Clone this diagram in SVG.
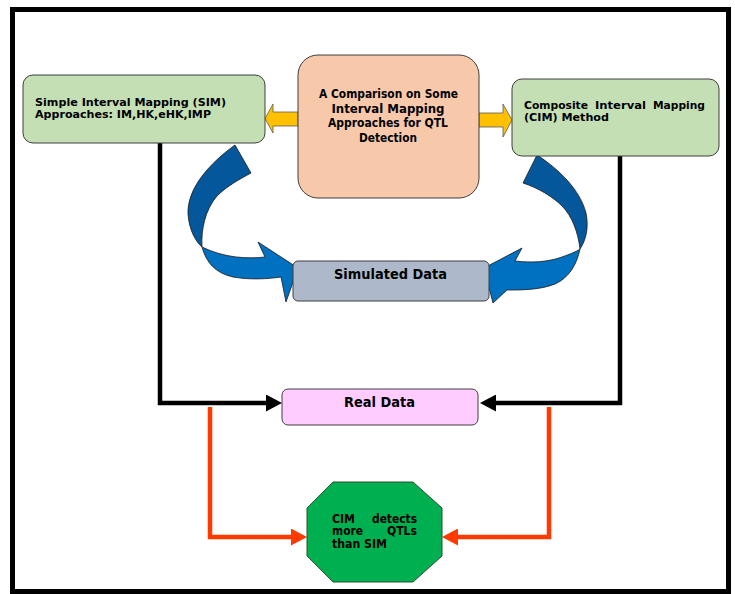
<svg xmlns="http://www.w3.org/2000/svg" width="735" height="594" viewBox="0 0 735 594">
<defs>
<style>
text{font-family:"DejaVu Sans","Verdana","Liberation Sans",sans-serif;font-weight:bold;fill:#000}
.s11{font-size:11.5px}
.s10{font-size:11px}
.s13{font-size:14px}
.box{stroke:#3f3f3f;stroke-width:1}
.blk{fill:none;stroke:#000;stroke-width:4.5;stroke-linejoin:miter}
.red{fill:none;stroke:#ff3a00;stroke-width:4.5;stroke-linejoin:miter}
.ora{fill:#ffc000;stroke:#5a5a5a;stroke-width:0.8}
.dk{fill:#03579a;stroke:#1a1a1a;stroke-width:0.8}
.lt{fill:#0070c0;stroke:#1a1a1a;stroke-width:0.8}
</style>
<marker id="hb" viewBox="0 0 16 17" markerWidth="16" markerHeight="17" refX="0" refY="8.5" orient="auto" markerUnits="userSpaceOnUse"><path d="M0,0 L16,8.5 L0,17 Z" fill="#000"/></marker>
<marker id="hr" viewBox="0 0 16 17" markerWidth="16" markerHeight="17" refX="0" refY="8.5" orient="auto" markerUnits="userSpaceOnUse"><path d="M0,0 L16,8.5 L0,17 Z" fill="#ff3a00"/></marker>
</defs>
<rect x="0" y="0" width="735" height="594" fill="#fff"/>
<rect x="12.5" y="9.5" width="716" height="582" fill="none" stroke="#000" stroke-width="5"/>

<g id="connectors">
<polyline class="blk" points="160,143 160,403 266,403" marker-end="url(#hb)"/>
<polyline class="blk" points="620,156 620,403 496,403" marker-end="url(#hb)"/>
<polyline class="red" points="210,407 210,537 291,537" marker-end="url(#hr)"/>
<polyline class="red" points="549,407 549,537 458,537" marker-end="url(#hr)"/>
<path class="ora" d="M298,112 L273,112 L273,104 L265,118.5 L273,133 L273,126 L298,126 Z"/>
<path class="ora" d="M479,113 L503,113 L503,104 L512,120 L503,137 L503,127 L479,127 Z"/>
<path class="dk" d="M235,145 C210,163 187,188 188,214 C189,230 196,242 202,247 C201,230 205,210 217,196 C227,186 240,179 251,173 Z"/>
<path class="lt" d="M202,247 C206,262 215,273 233,277 C250,280 268,279 281,277 L286,302 L298,268 L258,242 L265,257 C248,259 224,258 202,247 Z"/>
<path class="dk" d="M537,155 C560,170 580,190 586,213 C589,228 586,240 580,249 C578,232 572,216 562,206 C552,196 538,188 523,183 Z"/>
<path class="lt" d="M580,249 C577,264 569,278 555,284 C540,290 522,290 507,290 L493,303 L484,268 L522,248 L515,261 C532,263 548,262 562,257 C570,254 576,252 580,249 Z"/>
</g>

<g id="sim">
<rect class="box" x="23" y="75" width="242" height="68" rx="10" fill="#c5dfb4"/>
<text class="s10" x="35" y="106" textLength="191" lengthAdjust="spacingAndGlyphs">Simple Interval Mapping (SIM)</text>
<text class="s10" x="35" y="118" textLength="176" lengthAdjust="spacingAndGlyphs">Approaches: IM,HK,eHK,IMP</text>
</g>

<g id="title">
<rect class="box" x="298" y="55" width="181" height="143" rx="20" fill="#f7c9aa"/>
<text class="s11" x="388.5" y="98" text-anchor="middle" textLength="139" lengthAdjust="spacingAndGlyphs">A Comparison on Some</text>
<text class="s11" x="388" y="112.5" text-anchor="middle" textLength="113" lengthAdjust="spacingAndGlyphs">Interval Mapping</text>
<text class="s11" x="388" y="127" text-anchor="middle" textLength="120" lengthAdjust="spacingAndGlyphs">Approaches for QTL</text>
<text class="s11" x="388" y="141.5" text-anchor="middle" textLength="58" lengthAdjust="spacingAndGlyphs">Detection</text>
</g>

<g id="cim">
<rect class="box" x="512" y="79" width="207" height="77" rx="10" fill="#c5dfb4"/>
<text class="s10" x="524" y="109" textLength="64" lengthAdjust="spacingAndGlyphs">Composite</text>
<text class="s10" x="595" y="109" textLength="51" lengthAdjust="spacingAndGlyphs">Interval</text>
<text class="s10" x="653" y="109" textLength="52" lengthAdjust="spacingAndGlyphs">Mapping</text>
<text class="s10" x="524" y="121" textLength="85" lengthAdjust="spacingAndGlyphs">(CIM) Method</text>
</g>

<g id="simulated">
<rect class="box" x="293" y="261" width="196" height="40" rx="5" fill="#adb9ca"/>
<text class="s13" x="390.5" y="279" text-anchor="middle" textLength="113" lengthAdjust="spacingAndGlyphs">Simulated Data</text>
</g>

<g id="real">
<rect class="box" x="282" y="389" width="196" height="36" rx="6" fill="#ffccff"/>
<text class="s13" x="379.5" y="407" text-anchor="middle" textLength="71" lengthAdjust="spacingAndGlyphs">Real Data</text>
</g>

<g id="result">
<polygon points="333,482 413,482 442,508 442,556 413,582 333,582 307,556 307,508" fill="#00b050" stroke="#2f4f2f" stroke-width="1"/>
<text class="s11" x="332" y="522.5" textLength="23" lengthAdjust="spacingAndGlyphs">CIM</text>
<text class="s11" x="372" y="522.5" textLength="45" lengthAdjust="spacingAndGlyphs">detects</text>
<text class="s11" x="332" y="535" textLength="31" lengthAdjust="spacingAndGlyphs">more</text>
<text class="s11" x="387" y="535" textLength="30" lengthAdjust="spacingAndGlyphs">QTLs</text>
<text class="s11" x="332" y="547.5" textLength="55" lengthAdjust="spacingAndGlyphs">than SIM</text>
</g>
</svg>
